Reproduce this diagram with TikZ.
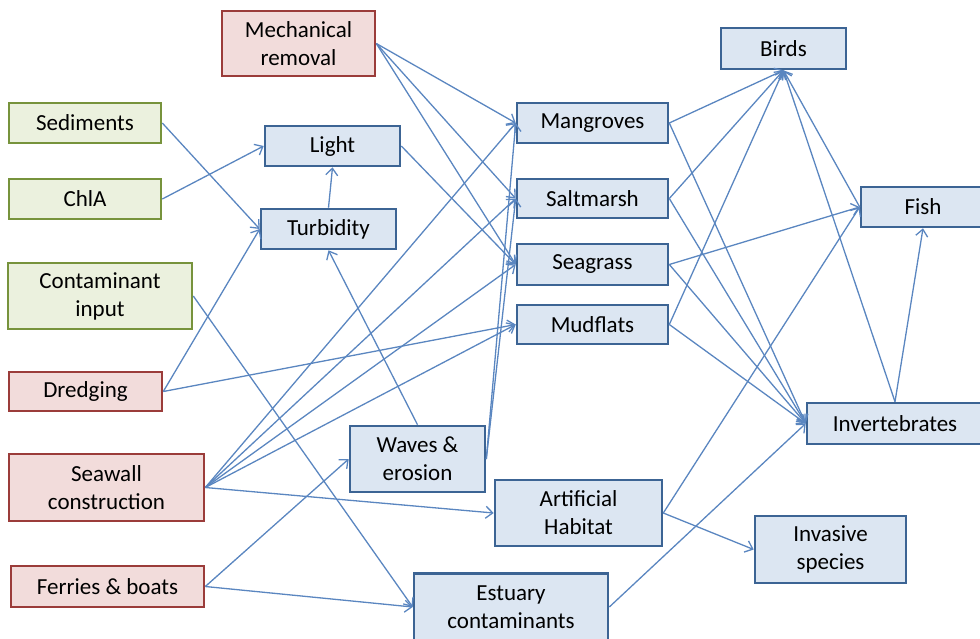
\documentclass[tikz,border=0pt]{standalone}
\usepackage{fontspec}
\setmainfont{Carlito}
\usetikzlibrary{arrows.meta}
\definecolor{redfill}{HTML}{F2DCDB}
\definecolor{redline}{HTML}{9B3C3A}
\definecolor{greenfill}{HTML}{EBF1DE}
\definecolor{greenline}{HTML}{77933C}
\definecolor{bluefill}{HTML}{DCE6F2}
\definecolor{blueline}{HTML}{3C6494}
\definecolor{linkblue}{HTML}{5A86C0}
\tikzset{
  box/.style={draw, line width=2.6pt, align=center, inner sep=0pt, font=\fontsize{23}{28}\selectfont},
  human/.style={draw=redline, fill=redfill},
  natural/.style={draw=greenline, fill=greenfill},
  effect/.style={draw=blueline, fill=bluefill},
  link/.style={-{Straight Barb[length=7pt,width=12pt]}, line width=1.3pt, draw=linkblue}
}

\begin{document}
\begin{tikzpicture}[x=1pt,y=-1pt]
  \useasboundingbox (0,0) rectangle (980,638);
  % pressures
  \node[box, human, minimum width=153, minimum height=65] (mech) at (298.5,43.5) {Mechanical\\removal};
  \node[box, natural, minimum width=152, minimum height=40] (sed) at (85,123) {Sediments};
  \node[box, natural, minimum width=152, minimum height=40] (chla) at (85,199) {ChlA};
  \node[box, natural, minimum width=184, minimum height=66] (contam) at (100,296) {Contaminant\\input};
  \node[box, human, minimum width=153, minimum height=39] (dredge) at (85.5,391.5) {Dredging};
  \node[box, human, minimum width=195, minimum height=67] (seawall) at (106.5,487.5) {Seawall\\construction};
  \node[box, human, minimum width=193, minimum height=41] (ferries) at (107.5,586.5) {Ferries \& boats};
  % intermediate
  \node[box, effect, minimum width=135, minimum height=40] (light) at (332.5,146) {Light};
  \node[box, effect, minimum width=135, minimum height=40] (turb) at (328.5,229) {Turbidity};
  \node[box, effect, minimum width=135, minimum height=66] (waves) at (417.5,459) {Waves \&\\erosion};
  \node[box, effect, minimum width=167, minimum height=66] (artif) at (578.5,513) {Artificial\\Habitat};
  \node[box, effect, minimum width=194, minimum height=67] (estuary) at (511,607) {Estuary\\contaminants};
  % habitats
  \node[box, effect, minimum width=151, minimum height=40] (mangroves) at (592.5,123) {Mangroves};
  \node[box, effect, minimum width=151, minimum height=39] (saltmarsh) at (592.5,198.5) {Saltmarsh};
  \node[box, effect, minimum width=151, minimum height=41] (seagrass) at (592.5,264.5) {Seagrass};
  \node[box, effect, minimum width=151, minimum height=39] (mudflats) at (592.5,324.5) {Mudflats};
  % biota
  \node[box, effect, minimum width=125, minimum height=41] (birds) at (783.5,48.5) {Birds};
  \node[box, effect, minimum width=124, minimum height=40] (fish) at (923,207) {Fish};
  \node[box, effect, minimum width=176, minimum height=41] (invert) at (895,423.5) {Invertebrates};
  \node[box, effect, minimum width=151, minimum height=67] (invasive) at (830.5,549.5) {Invasive\\species};
  % links
  \draw[link] (sed.east) -- (turb.west);
  \draw[link] (chla.east) -- (light.west);
  \draw[link] (turb.north) -- (light.south);
  \draw[link] (light.east) -- (seagrass.west);
  \draw[link] (mech.east) -- (mangroves.west);
  \draw[link] (mech.east) -- (saltmarsh.west);
  \draw[link] (mech.east) -- (seagrass.west);
  \draw[link] (dredge.east) -- (turb.west);
  \draw[link] (dredge.east) -- (mudflats.west);
  \draw[link] (contam.east) -- (estuary.west);
  \draw[link] (seawall.east) -- (mangroves.west);
  \draw[link] (seawall.east) -- (saltmarsh.west);
  \draw[link] (seawall.east) -- (seagrass.west);
  \draw[link] (seawall.east) -- (mudflats.west);
  \draw[link] (seawall.east) -- (artif.west);
  \draw[link] (ferries.east) -- (waves.west);
  \draw[link] (ferries.east) -- (estuary.west);
  \draw[link] (waves.north) -- (turb.south);
  \draw[link] (waves.east) -- (mangroves.west);
  \draw[link] (waves.east) -- (saltmarsh.west);
  \draw[link] (mangroves.east) -- (birds.south);
  \draw[link] (mangroves.east) -- (invert.west);
  \draw[link] (saltmarsh.east) -- (birds.south);
  \draw[link] (saltmarsh.east) -- (invert.west);
  \draw[link] (seagrass.east) -- (fish.west);
  \draw[link] (seagrass.east) -- (invert.west);
  \draw[link] (mudflats.east) -- (birds.south);
  \draw[link] (mudflats.east) -- (invert.west);
  \draw[link] (artif.east) -- (fish.west);
  \draw[link] (artif.east) -- (invasive.west);
  \draw[link] (estuary.east) -- (invert.west);
  \draw[link] (fish.west) -- (birds.south);
  \draw[link] (invert.north) -- (birds.south);
  \draw[link] (invert.north) -- (fish.south);
\end{tikzpicture}
\end{document}
